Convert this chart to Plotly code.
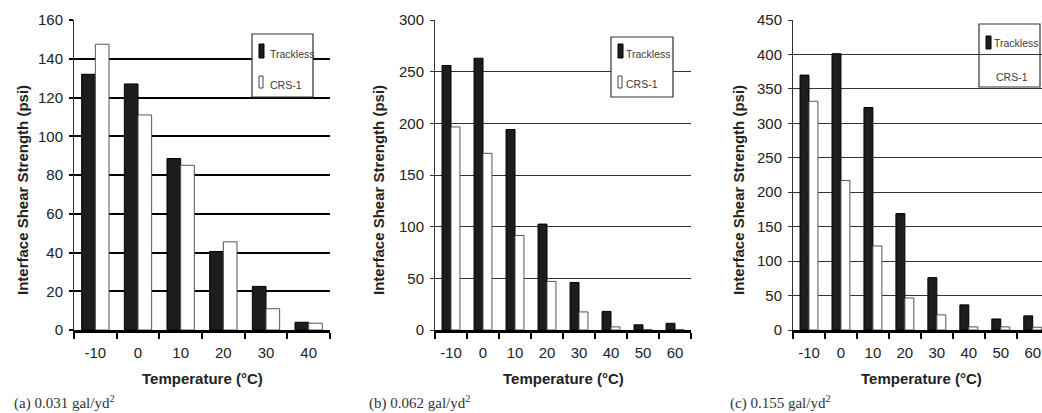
import plotly.graph_objects as go

W, H = 1042, 413

# ---------------- data ----------------
temps_a = ["-10", "0", "10", "20", "30", "40"]
trackless_a = [132, 127, 88.5, 40.5, 22.5, 4]
crs1_a = [147.5, 111, 85, 45.5, 11, 3.5]

temps_b = ["-10", "0", "10", "20", "30", "40", "50", "60"]
trackless_b = [256, 263, 194, 102.5, 46, 18, 5, 6.5]
crs1_b = [196.5, 171, 91.5, 47, 17.5, 3, 0.5, 0.5]

temps_c = ["-10", "0", "10", "20", "30", "40", "50", "60"]
trackless_c = [370, 401, 323, 169, 76, 36.5, 16, 20.5]
crs1_c = [332, 217, 122, 46.5, 22, 4.5, 4.5, 4]

captions = ["(a) 0.031 gal/yd<sup>2</sup>", "(b) 0.062 gal/yd<sup>2</sup>", "(c) 0.155 gal/yd<sup>2</sup>"]
x_title = "Temperature (°C)"
y_title = "Interface Shear Strength (psi)"
series_names = ["Trackless", "CRS-1"]


def px(x):
    return x / W


def py(y):
    return 1 - y / H


SANS = "Liberation Sans, Arial, sans-serif"
SERIF = "Liberation Serif, Times New Roman, serif"

panels = [
    dict(cats=temps_a, t=trackless_a, c=crs1_a, x0=74, x1=330, xr=[-0.5, 5.5], ymax=160, dtick=20,
         bw=0.32, gridw=2.2, gridc="#000000", ytitle_x=22, cap_x=12,
         leg=dict(box=(252, 34, 313, 97), fill="white", m1=(259, 44, 264, 58), t1=(268, 54),
                  m2=(259, 76, 263, 88), t2=(268, 85))),
    dict(cats=temps_b, t=trackless_b, c=crs1_b, x0=435, x1=691, xr=[-0.5, 7.5], ymax=300, dtick=50,
         bw=0.28, gridw=1.3, gridc="#333333", ytitle_x=378, cap_x=367,
         leg=dict(box=(611, 37, 673, 97), fill="white", m1=(618, 44, 623, 58), t1=(624, 54),
                  m2=(618, 76, 622, 88), t2=(624, 84))),
    dict(cats=temps_c, t=trackless_c, c=crs1_c, x0=793, x1=1042, xr=[-0.5, 7.29], ymax=450, dtick=50,
         bw=0.28, gridw=1.3, gridc="#333333", ytitle_x=738, cap_x=728,
         leg=dict(box=(979, 24, 1040, 87), fill=None, m1=(986, 36, 991, 49), t1=(992, 43),
                  m2=None, t2=(994, 77))),
]

fig = go.Figure()
layout = dict(width=W, height=H, margin=dict(l=0, r=0, t=0, b=0, autoexpand=False),
              paper_bgcolor="white", plot_bgcolor="white", showlegend=False,
              barmode="group", font=dict(family=SANS, color="#222222"))
shapes = []
annotations = []
ydom = [py(330), py(20)]

for i, p in enumerate(panels):
    k = "" if i == 0 else str(i + 1)
    xa, ya = "x" + k, "y" + k
    fig.add_trace(go.Bar(x=p["cats"], y=p["t"], name=series_names[0], xaxis=xa, yaxis=ya,
                         width=p["bw"], offset=-p["bw"],
                         marker=dict(color="#1e1c1c", line=dict(color="#000000", width=1))))
    fig.add_trace(go.Bar(x=p["cats"], y=p["c"], name=series_names[1], xaxis=xa, yaxis=ya,
                         width=p["bw"], offset=0,
                         marker=dict(color="#ffffff", line=dict(color="#555555", width=1))))
    layout["xaxis" + k] = dict(domain=[px(p["x0"]), px(p["x1"])], anchor=ya, type="category",
                               categoryorder="array", categoryarray=p["cats"], range=p["xr"],
                               automargin=False,
                               showline=True, linecolor="#000000", linewidth=2.5,
                               ticks="outside", tickson="boundaries", ticklen=6, tickwidth=2,
                               tickcolor="#000000", showgrid=False, ticklabelstandoff=7,
                               tickfont=dict(family=SANS, size=15, color="#222222"))
    layout["yaxis" + k] = dict(domain=ydom, anchor=xa, range=[0, p["ymax"]], dtick=p["dtick"],
                               automargin=False,
                               showline=True, linecolor="#333333", linewidth=1,
                               ticks="outside", ticklen=4, tickwidth=p["gridw"], tickcolor=p["gridc"],
                               showgrid=True, gridcolor=p["gridc"], gridwidth=p["gridw"],
                               zeroline=False, ticklabelstandoff=3,
                               tickfont=dict(family=SANS, size=15, color="#222222"))
    # axis titles
    xc = (p["x0"] + p["x0"] + 32 * len(p["cats"]) if i == 2 else p["x0"] + p["x1"]) / 2
    annotations.append(dict(text="<b>" + x_title + "</b>", xref="paper", yref="paper",
                            x=px(xc), y=py(378), showarrow=False, xanchor="center", yanchor="middle",
                            font=dict(family=SANS, size=15, color="#222222")))
    annotations.append(dict(text="<b>" + y_title + "</b>", xref="paper", yref="paper",
                            x=px(p["ytitle_x"]), y=py(190), showarrow=False, textangle=-90,
                            xanchor="center", yanchor="middle",
                            font=dict(family=SANS, size=15, color="#222222")))
    annotations.append(dict(text=captions[i], xref="paper", yref="paper",
                            x=px(p["cap_x"]), y=py(402), showarrow=False, xanchor="left", yanchor="middle",
                            font=dict(family=SERIF, size=15, color="#333333")))
    # legend box
    lg = p["leg"]
    bx0, by0, bx1, by1 = lg["box"]
    shapes.append(dict(type="rect", xref="paper", yref="paper", x0=px(bx0), x1=px(bx1),
                       y0=py(by1), y1=py(by0), line=dict(color="#333333", width=1.2),
                       fillcolor=lg["fill"] if lg["fill"] else "rgba(0,0,0,0)", layer="above"))
    mx0, my0, mx1, my1 = lg["m1"]
    shapes.append(dict(type="rect", xref="paper", yref="paper", x0=px(mx0), x1=px(mx1),
                       y0=py(my1), y1=py(my0), line=dict(color="#000000", width=1),
                       fillcolor="#1e1c1c", layer="above"))
    if lg["m2"]:
        mx0, my0, mx1, my1 = lg["m2"]
        shapes.append(dict(type="rect", xref="paper", yref="paper", x0=px(mx0), x1=px(mx1),
                           y0=py(my1), y1=py(my0), line=dict(color="#444444", width=1),
                           fillcolor="#ffffff", layer="above"))
    for name, (tx, ty) in zip(series_names, [lg["t1"], lg["t2"]]):
        annotations.append(dict(text=name, xref="paper", yref="paper", x=px(tx), y=py(ty),
                                showarrow=False, xanchor="left", yanchor="middle",
                                font=dict(family=SANS, size=10.5, color="#3a3a3a")))

layout["shapes"] = shapes
layout["annotations"] = annotations
fig.update_layout(**layout)
fig.write_html("out.html")
